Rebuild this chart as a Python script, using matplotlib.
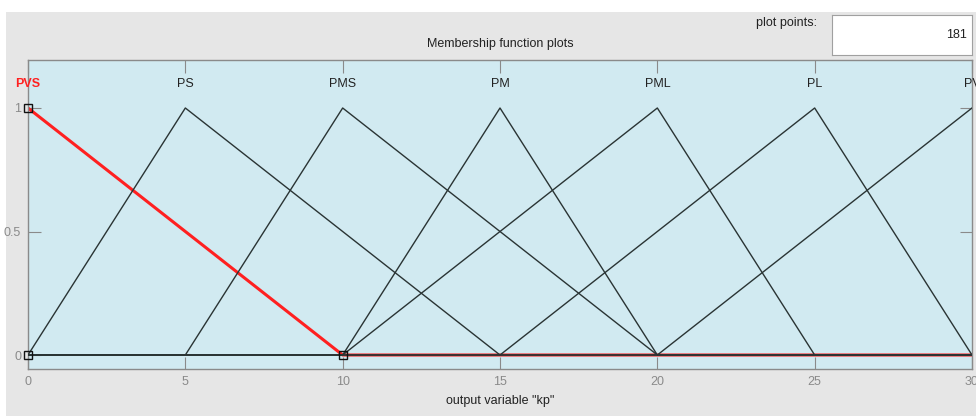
import numpy as np
import matplotlib
matplotlib.use("Agg")
import matplotlib.pyplot as plt
from matplotlib.patches import Rectangle

plt.rcParams['font.family'] = ['Liberation Sans', 'DejaVu Sans']

# Output variable "kp": triangular membership functions [a, b, c]
mf_names = ["PVS", "PS", "PMS", "PM", "PML", "PL", "PV"]
mf_params = [
    [-10, 0, 10],
    [0, 5, 15],
    [5, 10, 20],
    [10, 15, 20],
    [10, 20, 25],
    [15, 25, 30],
    [20, 30, 40],
]
selected = "PVS"
x_range = [0, 30]
n_points = 181
x_ticks = [0, 5, 10, 15, 20, 25, 30]
y_ticks = [0, 0.5, 1]
y_tick_labels = ["0", "0.5", "1"]


def trimf(x, a, b, c):
    left = (x - a) / (b - a) if b != a else np.ones_like(x)
    right = (c - x) / (c - b) if c != b else np.ones_like(x)
    return np.clip(np.minimum(left, right), 0, 1)


W, H = 976, 416
fig = plt.figure(figsize=(W / 100, H / 100), dpi=100, facecolor="white")

# grey panel behind the plot
bg = fig.add_axes([6 / W, 0, 1 - 6 / W, 1 - 12 / H], zorder=0)
bg.set_facecolor("#e6e6e6")
bg.set_axis_off()
bg.add_patch(Rectangle((0, 0), 1, 1, transform=bg.transAxes,
                       facecolor="#e6e6e6", edgecolor="none"))

ax_l, ax_r, ax_t, ax_b = 28, 972, 60, 369
ax = fig.add_axes([ax_l / W, 1 - ax_b / H, (ax_r - ax_l) / W, (ax_b - ax_t) / H],
                  zorder=2)
ax.set_facecolor("#d1eaf1")

x = np.linspace(x_range[0], x_range[1], n_points)
line_col = "#2a3434"
red = "#ff2020"

# selected function underneath, thicker so it shows along the zero line
for name, p in zip(mf_names, mf_params):
    if name == selected:
        ax.plot(x, trimf(x, *p), color=red, lw=2.2, zorder=2,
                solid_joinstyle="round")
for name, p in zip(mf_names, mf_params):
    if name != selected:
        ax.plot(x, trimf(x, *p), color=line_col, lw=1.0, zorder=3)

# vertex handles of the selected function
sel = mf_params[mf_names.index(selected)]
hx = [sel[1], sel[1], sel[2]]
hy = [0, 1, 0]
ax.plot(hx, hy, ls="none", marker="s", ms=6, mfc="none", mec="#111111",
        mew=1.0, zorder=4, clip_on=False)

# function names above each peak
for name, p in zip(mf_names, mf_params):
    is_sel = name == selected
    ax.text(p[1], 1.097, name, ha="center", va="center", fontsize=9,
            color=red if is_sel else "#222222",
            fontweight="bold" if is_sel else "normal", zorder=5, clip_on=False)

ax.set_xlim(x_range)
ax.set_ylim(-1 * 14 / 247, 1 + 48 / 247)
ax.set_xticks(x_ticks)
ax.set_yticks(y_ticks)
ax.set_yticklabels(y_tick_labels)
ax.tick_params(direction="in", length=9, width=0.8, color="#8a8a8a",
               labelcolor="#8a8a8a", labelsize=9, top=True, right=True,
               pad=5)
for s in ax.spines.values():
    s.set_color("#8a8a8a")
    s.set_linewidth(1.0)

ax.set_xlabel('output variable "kp"', fontsize=9, color="#222222", labelpad=5)

fig.text(500 / W, 1 - 44 / H, "Membership function plots", ha="center",
         va="center", fontsize=9, color="#222222", zorder=3)
fig.text(817 / W, 1 - 23 / H, "plot points:", ha="right", va="center",
         fontsize=9, color="#222222", zorder=3)
box = fig.add_axes([832 / W, 1 - 55 / H, 140 / W, 40 / H], zorder=3)
box.set_xticks([])
box.set_yticks([])
box.set_facecolor("white")
for s in box.spines.values():
    s.set_color("#a0a0a0")
    s.set_linewidth(0.8)
box.text(0.965, 0.5, str(n_points), transform=box.transAxes, ha="right",
         va="center", fontsize=9, color="#222222")

fig.savefig("out.png", dpi=100, facecolor="white")
